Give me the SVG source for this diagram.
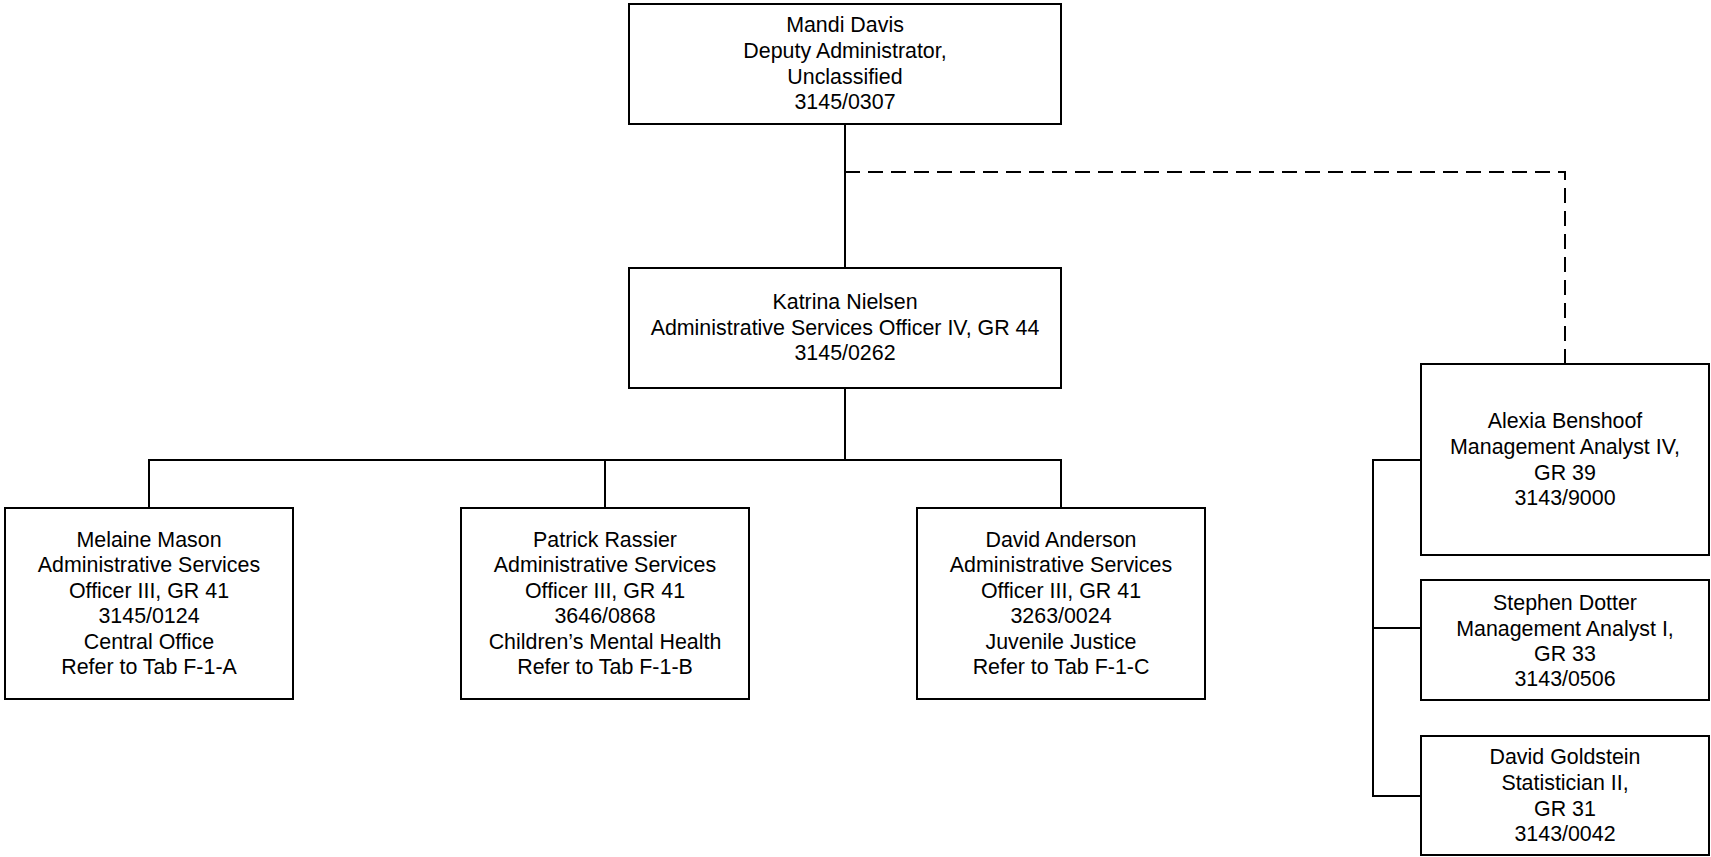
<svg xmlns="http://www.w3.org/2000/svg" width="1711" height="857" viewBox="0 0 1711 857">
<style>
.box{fill:#fff;stroke:#000;stroke-width:2}
.ln{fill:none;stroke:#000;stroke-width:2}
.dash{fill:none;stroke:#000;stroke-width:2;stroke-dasharray:15 8}
text{font-family:"Liberation Sans",Arial,sans-serif;font-size:21.4px;fill:#000;text-anchor:middle}
</style>
<rect width="1711" height="857" fill="#fff"/>
<g id="connectors">
<path class="ln" d="M845 124V268"/>
<path class="dash" d="M845 172H1565V364"/>
<path class="ln" d="M845 388V460M149 508V460H1061V508M605 460V508"/>
<path class="ln" d="M1421 460H1373V796H1421M1373 628H1421"/>
</g>
<g id="mandi">
<rect class="box" x="629" y="4" width="432" height="120"/>
<text x="845" y="32">Mandi Davis</text>
<text x="845" y="58">Deputy Administrator,</text>
<text x="845" y="83.5">Unclassified</text>
<text x="845" y="109">3145/0307</text>
</g>
<g id="katrina">
<rect class="box" x="629" y="268" width="432" height="120"/>
<text x="845" y="309">Katrina Nielsen</text>
<text x="845" y="334.5">Administrative Services Officer IV, GR 44</text>
<text x="845" y="360">3145/0262</text>
</g>
<g id="melaine">
<rect class="box" x="5" y="508" width="288" height="191"/>
<text x="149" y="546.7">Melaine Mason</text>
<text x="149" y="572.2">Administrative Services</text>
<text x="149" y="597.7">Officer III, GR 41</text>
<text x="149" y="623.2">3145/0124</text>
<text x="149" y="648.7">Central Office</text>
<text x="149" y="674.2">Refer to Tab F-1-A</text>
</g>
<g id="patrick">
<rect class="box" x="461" y="508" width="288" height="191"/>
<text x="605" y="546.7">Patrick Rassier</text>
<text x="605" y="572.2">Administrative Services</text>
<text x="605" y="597.7">Officer III, GR 41</text>
<text x="605" y="623.2">3646/0868</text>
<text x="605" y="648.7">Children’s Mental Health</text>
<text x="605" y="674.2">Refer to Tab F-1-B</text>
</g>
<g id="anderson">
<rect class="box" x="917" y="508" width="288" height="191"/>
<text x="1061" y="546.7">David Anderson</text>
<text x="1061" y="572.2">Administrative Services</text>
<text x="1061" y="597.7">Officer III, GR 41</text>
<text x="1061" y="623.2">3263/0024</text>
<text x="1061" y="648.7">Juvenile Justice</text>
<text x="1061" y="674.2">Refer to Tab F-1-C</text>
</g>
<g id="alexia">
<rect class="box" x="1421" y="364" width="288" height="191"/>
<text x="1565" y="428.3">Alexia Benshoof</text>
<text x="1565" y="454">Management Analyst IV,</text>
<text x="1565" y="480">GR 39</text>
<text x="1565" y="505">3143/9000</text>
</g>
<g id="stephen">
<rect class="box" x="1421" y="580" width="288" height="120"/>
<text x="1565" y="610">Stephen Dotter</text>
<text x="1565" y="636">Management Analyst I,</text>
<text x="1565" y="661">GR 33</text>
<text x="1565" y="686">3143/0506</text>
</g>
<g id="goldstein">
<rect class="box" x="1421" y="736" width="288" height="119"/>
<text x="1565" y="764">David Goldstein</text>
<text x="1565" y="790">Statistician II,</text>
<text x="1565" y="815.7">GR 31</text>
<text x="1565" y="840.7">3143/0042</text>
</g>
</svg>
